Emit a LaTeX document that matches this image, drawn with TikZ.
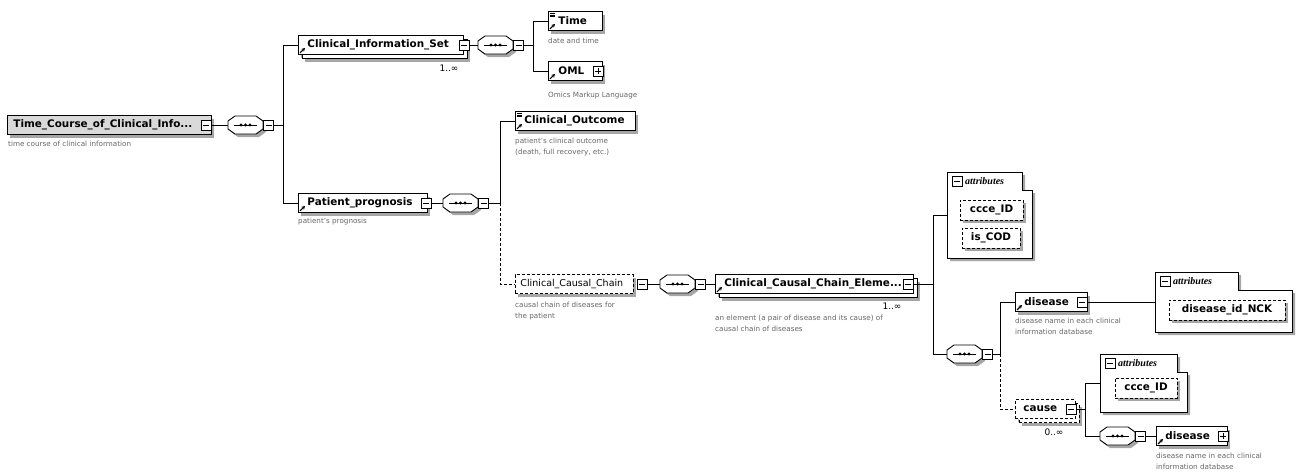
\documentclass[tikz,border=0pt]{standalone}
\usepackage{fontspec}
\setmainfont{DejaVu Sans}
\newfontfamily\attrfont{Liberation Serif}
\usetikzlibrary{shadows,arrows.meta}
\tikzset{
  elbox/.style={draw=black, line width=0.9pt, fill=white, anchor=west, minimum height=19pt,
    inner xsep=0pt, inner ysep=0pt, text width=#1, align=left,
    font=\fontsize{10.4}{12}\selectfont\bfseries,
    drop shadow={shadow xshift=3pt, shadow yshift=-3pt, fill=black!35, opacity=1}},
  stacked/.style={general shadow={shadow xshift=7pt, shadow yshift=-7pt, fill=black!35, draw=none},
    general shadow={shadow xshift=4pt, shadow yshift=-4pt, fill=white, draw=black, line width=0.9pt}},
  optional/.style={dash pattern=on 3pt off 2pt},
  mbox/.style={draw=black, line width=0.6pt, fill=white, minimum size=10pt, inner sep=0pt,
    path picture={\draw[line width=0.7pt] ([xshift=2pt]path picture bounding box.west) -- ([xshift=-2pt]path picture bounding box.east);}},
  pbox/.style={draw=black, line width=0.6pt, fill=white, minimum size=10pt, inner sep=0pt,
    path picture={\draw[line width=0.7pt] ([xshift=2pt]path picture bounding box.west) -- ([xshift=-2pt]path picture bounding box.east);
      \draw[line width=0.7pt] ([yshift=-2pt]path picture bounding box.north) -- ([yshift=2pt]path picture bounding box.south);}},
  desc/.style={anchor=north west, inner sep=0pt, align=left, text=black!60, font=\fontsize{7.2}{11}\selectfont},
  mult/.style={inner sep=0pt, font=\fontsize{9}{10}\selectfont},
  conn/.style={line width=0.8pt},
  refarrow/.style={line width=1.1pt, -{Stealth[length=3.5pt,width=3.8pt]}},
  attrnode/.style={draw=black, optional, line width=0.9pt, fill=white, minimum height=20pt, inner sep=0pt,
    font=\fontsize{10.4}{12}\selectfont\bfseries,
    drop shadow={shadow xshift=3pt, shadow yshift=-3pt, fill=black!35, opacity=1}},
  compnode/.style={minimum width=35pt, minimum height=18pt, inner sep=0pt, anchor=west},
  simpleicon/.style={line width=0.5pt},
}
\newcommand\seqc[3]{%
  \fill[black!35] (#2+3,#3-1) -- (#2+10,#3-6) -- (#2+31,#3-6) -- (#2+38,#3-1) -- (#2+38,#3+7) -- (#2+31,#3+12) -- (#2+10,#3+12) -- (#2+3,#3+7) -- cycle;
  \draw[line width=0.9pt, fill=white] (#2,#3-4) -- (#2+7,#3-9) -- (#2+28,#3-9) -- (#2+35,#3-4) -- (#2+35,#3+4) -- (#2+28,#3+9) -- (#2+7,#3+9) -- (#2,#3+4) -- cycle;
  \node[compnode] (#1) at (#2,#3) {};
  \draw[line width=0.8pt] (#2+6,#3) -- (#2+29,#3);
  \foreach \dx in {13,17.5,22} \fill (#2+\dx,#3) circle (1.7pt);
  \node[mbox] (#1m) at (#2+40.5,#3) {};
}
\newcommand\attrframe[6]{%
  \fill[black!35] (#2+3,#3+3) -- (#6+3,#3+3) -- (#6+3,#3+21) -- (#4+3,#3+21) -- (#4+3,#5+3) -- (#2+3,#5+3) -- cycle;
  \draw[line width=0.9pt, fill=white] (#2,#3) -- (#6,#3) -- (#6,#3+18) -- (#4,#3+18) -- (#4,#5) -- (#2,#5) -- cycle;
  \coordinate (#1) at (#2,{(#3+#5)/2});
  \node[mbox] (#1h) at (#2+10,#3+9) {};
  \node[anchor=west, inner sep=0pt, font=\attrfont\fontsize{10}{11}\selectfont\bfseries\itshape] (#1t) at (#2+18,#3+9) {attributes};
}
\begin{document}
\begin{tikzpicture}[x=1pt,y=-1pt]
\useasboundingbox (0,0) rectangle (1297,475);

% root
\node[elbox=204pt, fill=black!15] (root) at (7,125) {\hspace*{6pt}Time\_Course\_of\_Clinical\_Info...};
\node[mbox] (rootm) at ([xshift=-6pt]root.east) {};
\node[desc] (droot) at (8,141) {time course of clinical information};
\seqc{c1}{228}{125}
\coordinate (b1) at (283,125);

% Clinical_Information_Set
\node[elbox=165pt, stacked] (cis) at (298,45) {\hspace*{9pt}Clinical\_Information\_Set};
\node[mbox] (cism) at (cis.east) {};
\node[mult] (mcis) at (449,68) {1..∞};
\seqc{c2}{478}{45}
\coordinate (b2) at (533,45);

\node[elbox=54pt] (time) at (548,21) {\hspace*{10pt}Time};
\node[desc] (dtime) at (548,38) {date and time};
\node[elbox=54pt] (oml) at (548,71) {\hspace*{10pt}OML};
\node[pbox] (omlp) at ([xshift=-5pt]oml.east) {};
\node[desc] (doml) at (548,92) {Omics Markup Language};

% Patient_prognosis
\node[elbox=129pt] (pp) at (298,203) {\hspace*{9pt}Patient\_prognosis};
\node[mbox] (ppm) at ([xshift=-2pt]pp.east) {};
\node[desc] (dpp) at (298,218) {patient's prognosis};
\seqc{c3}{443}{203}
\coordinate (b3) at (500,203);

\node[elbox=120pt] (co) at (515,121) {\hspace*{9pt}Clinical\_Outcome};
\node[desc] (dco) at (515,138) {patient's clinical outcome\\(death, full recovery, etc.)};

\node[elbox=118pt, optional, font=\fontsize{9.5}{12}\selectfont] (ccc) at (515,284) {\hspace*{5pt}Clinical\_Causal\_Chain};
\node[mbox] (cccm) at ([xshift=8pt]ccc.east) {};
\node[desc] (dccc) at (515,302) {causal chain of diseases for\\the patient};
\seqc{c4}{660}{284}

\node[elbox=198pt, stacked] (ccce) at (715,284) {\hspace*{9pt}Clinical\_Causal\_Chain\_Eleme...};
\node[mbox] (cccem) at ([xshift=-6pt]ccce.east) {};
\node[mult] (mccce) at (892,306) {1..∞};
\node[desc] (dccce) at (715,315) {an element (a pair of disease and its cause) of\\causal chain of diseases};
\coordinate (b4) at (933,284);

% attributes of element
\attrframe{a1}{947}{172}{1032}{258}{1022}
\node[attrnode, minimum width=63pt] (ccceid) at (991.5,210) {ccce\_ID};
\node[attrnode, minimum width=58pt] (iscod) at (991,238) {is\_COD};

\seqc{c5}{947}{354}
\coordinate (b5) at (1000,354);

\node[elbox=72pt] (dis) at (1015,302) {\hspace*{9pt}disease};
\node[mbox] (dism) at ([xshift=-6pt]dis.east) {};
\node[desc] (ddis) at (1015,318) {disease name in each clinical\\information database};

\attrframe{a2}{1155}{272}{1292}{332}{1238}
\node[attrnode, minimum width=116pt] (disid) at (1227,310) {disease\_id\_NCK};

\node[elbox=60pt, optional, stacked] (cause) at (1015,409) {\hspace*{8pt}cause};
\node[mbox] (causem) at ([xshift=-4.5pt]cause.east) {};
\node[mult] (mcause) at (1054,432) {0..∞};
\coordinate (b6) at (1085,409);

\attrframe{a3}{1100}{354}{1187}{412}{1177}
\node[attrnode, minimum width=62pt] (ccceid2) at (1146,388) {ccce\_ID};

\seqc{c6}{1100}{436}
\node[elbox=71pt] (dis2) at (1156,436) {\hspace*{9pt}disease};
\node[pbox] (dis2p) at ([xshift=-5pt]dis2.east) {};
\node[desc] (ddis2) at (1156,453) {disease name in each clinical\\information database};

% icons: reference arrows
\foreach \n in {cis,time,oml,pp,co,ccce,dis,dis2}
  \draw[refarrow] ([shift={(2,-2)}]\n.south west) -- ++(5,-5);
% simple-content icons
\foreach \n in {time,co}
  \foreach \d in {2,3.8,5.6}
    \draw[simpleicon] ([shift={(2,\d)}]\n.north west) -- ++(5,0);

% connectors
\draw[conn] (rootm.east) -- (c1.west);
\draw[conn] (c1m.east) -- (b1) |- (cis.west);
\draw[conn] (b1) |- (pp.west);
\draw[conn] (cism.east) -- (c2.west);
\draw[conn] (c2m.east) -- (b2) |- (time.west);
\draw[conn] (b2) |- (oml.west);
\draw[conn] (ppm.east) -- (c3.west);
\draw[conn] (c3m.east) -- (b3) |- (co.west);
\draw[conn, optional] (b3) |- (ccc.west);
\draw[conn] (cccm.east) -- (c4.west);
\draw[conn] (c4m.east) -- (ccce.west);
\draw[conn] (cccem.east) -- (b4) |- (a1);
\draw[conn] (b4) |- (c5.west);
\draw[conn] (c5m.east) -- (b5) |- (dis.west);
\draw[conn, optional] (b5) |- (cause.west);
\draw[conn] (dism.east) -- (a2);
\draw[conn] (causem.east) -- (b6) |- (a3);
\draw[conn] (b6) |- (c6.west);
\draw[conn] (c6m.east) -- (dis2.west);
\end{tikzpicture}
\end{document}
